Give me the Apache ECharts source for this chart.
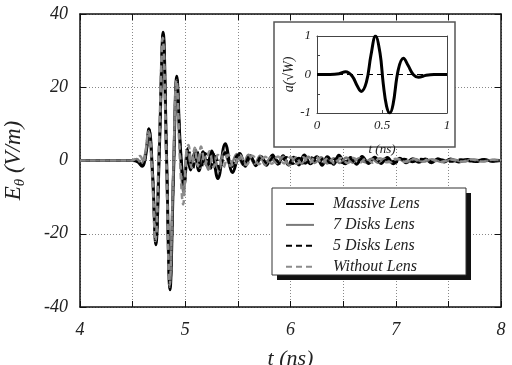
<!DOCTYPE html>
<html>
<head>
<meta charset="utf-8">
<script src="https://cdn.jsdelivr.net/npm/echarts@6/dist/echarts.min.js"></script>
<style>
  html, body { margin: 0; padding: 0; background: #fff; }
  #chart { width: 512px; height: 365px; }
</style>
</head>
<body>
<div id="chart"></div>
<script>
// [t (ns), E (V/m)]
const massiveLens = [
  [4.00, 0], [4.50, 0], [4.55, -0.4], [4.59, -1.6], [4.625, 1.5], [4.655, 8.7], [4.69, -4], [4.72, -23],
  [4.755, 4], [4.79, 35], [4.823, 0], [4.855, -35.3], [4.888, -4], [4.92, 23], [4.955, 3], [4.99, -5.5],
  [5.02, 1.8], [5.05, -2.6], [5.09, 2.2], [5.13, -2.8], [5.17, 2.4], [5.21, -1.6], [5.25, 2.6], [5.31, -4.9],
  [5.38, 4.6], [5.45, -3.3], [5.52, 1.9], [5.57, -1.6], [5.62, 1.3], [5.67, -1.4], [5.72, 1.1], [5.77, -1.3],
  [5.83, 1.5], [5.88, -1.0], [5.93, 1.3], [5.98, -1.2], [6.03, 0.9], [6.08, -1.2], [6.13, 1.5], [6.19, -0.9],
  [6.25, 1.0], [6.30, -1.3], [6.35, 1.0], [6.41, -1.0], [6.46, 1.4], [6.52, -0.9], [6.57, 0.8], [6.63, -1.0],
  [6.68, 1.1], [6.74, -0.8], [6.80, 0.9], [6.86, -0.8], [6.92, 0.8], [6.98, -0.9], [7.04, 0.6], [7.10, -0.6],
  [7.16, 0.5], [7.22, -0.5], [7.28, 0.4], [7.34, -0.6], [7.40, 0.5], [7.46, -0.4], [7.52, 0.4], [7.60, -0.4],
  [7.68, 0.3], [7.76, -0.3], [7.84, 0.3], [7.92, -0.2], [8.00, 0]
];
const disks7Lens = [
  [4.00, 0], [4.49, 0], [4.54, 0.4], [4.58, -0.8], [4.62, 2], [4.652, 8.2], [4.688, -4], [4.718, -22],
  [4.753, 4], [4.788, 34], [4.821, 0], [4.853, -34.5], [4.886, -4], [4.918, 22], [4.95, 2], [4.985, -9],
  [5.02, 3.2], [5.06, -1.5], [5.10, 3.0], [5.14, -2.0], [5.18, 1.5], [5.22, -2.5], [5.27, 1.5], [5.32, -2.8],
  [5.37, 2.5], [5.43, -1.5], [5.49, 1.8], [5.55, -1.2], [5.60, 1.6], [5.66, -0.9], [5.71, 1.3], [5.76, -1.2],
  [5.81, 0.8], [5.87, -0.7], [5.93, 1.0], [5.99, -1.3], [6.05, 0.8], [6.11, -0.9], [6.17, 1.0], [6.23, -0.7],
  [6.29, 0.9], [6.35, -0.8], [6.41, 0.6], [6.47, -0.7], [6.53, 0.8], [6.59, -0.6], [6.65, 0.6], [6.71, -0.5],
  [6.77, 0.5], [6.83, -0.6], [6.89, 0.5], [6.95, -0.5], [7.02, 0.4], [7.10, -0.4], [7.18, 0.4], [7.26, -0.3],
  [7.34, 0.3], [7.44, -0.4], [7.54, 0.3], [7.64, -0.3], [7.74, 0.3], [7.84, -0.2], [7.94, 0.2], [8.00, 0]
];
const disks5Lens = [
  [4.00, 0], [4.50, 0], [4.55, -0.3], [4.59, -1.4], [4.625, 1.5], [4.655, 8.5], [4.69, -4], [4.72, -22.5],
  [4.755, 4], [4.79, 34.5], [4.823, 0], [4.855, -34.8], [4.888, -4], [4.92, 22.5], [4.955, 3], [4.99, -7],
  [5.03, 3.5], [5.07, -2.5], [5.11, 2.8], [5.15, -2.2], [5.19, 2.0], [5.24, -2.2], [5.28, 2.2], [5.33, -2.5],
  [5.38, 2.2], [5.44, -1.8], [5.50, 1.5], [5.56, -1.3], [5.61, 1.2], [5.67, -1.0], [5.72, 1.0], [5.78, -0.9],
  [5.84, 1.0], [5.90, -0.8], [5.96, 0.9], [6.02, -0.9], [6.08, 0.7], [6.14, -0.8], [6.20, 0.8], [6.26, -0.7],
  [6.32, 0.7], [6.38, -0.7], [6.44, 0.6], [6.50, -0.7], [6.56, 0.6], [6.62, -0.6], [6.68, 0.5], [6.74, -0.5],
  [6.80, 0.5], [6.86, -0.5], [6.93, 0.4], [7.00, -0.5], [7.08, 0.4], [7.16, -0.4], [7.24, 0.4], [7.32, -0.3],
  [7.42, 0.3], [7.52, -0.3], [7.62, 0.3], [7.72, -0.2], [7.82, 0.2], [7.92, -0.2], [8.00, 0]
];
const withoutLens = [
  [4.00, 0], [4.49, 0], [4.53, 0.5], [4.57, 1.2], [4.60, -0.5], [4.65, 8.0], [4.685, -4], [4.716, -22],
  [4.75, 4], [4.786, 33.5], [4.82, 0], [4.852, -34], [4.885, -4], [4.917, 22], [4.95, 0], [4.98, -12],
  [5.01, 2], [5.03, 4.2], [5.06, -2.0], [5.09, 3.5], [5.12, -1.5], [5.15, 3.8], [5.19, -1.0], [5.23, 2.5],
  [5.27, -1.8], [5.31, 1.5], [5.36, -2.0], [5.41, 1.6], [5.46, -1.6], [5.52, 1.4], [5.58, -1.2], [5.64, 1.3],
  [5.70, -1.0], [5.76, 1.0], [5.82, -0.9], [5.88, 1.1], [5.94, -0.8], [6.00, 0.9], [6.06, -0.9], [6.12, 0.9],
  [6.18, -0.7], [6.24, 1.1], [6.30, -0.8], [6.36, 0.8], [6.42, -0.8], [6.48, 0.7], [6.54, -0.7], [6.60, 0.7],
  [6.66, -0.6], [6.72, 0.6], [6.78, -0.6], [6.85, 0.6], [6.92, -0.5], [7.00, 0.5], [7.08, -0.4], [7.16, 0.5],
  [7.24, -0.4], [7.32, 0.4], [7.42, -0.4], [7.52, 0.3], [7.62, -0.3], [7.72, 0.3], [7.82, -0.3], [7.92, 0.2],
  [8.00, 0]
];
// inset: excitation pulse a(sqrt W) vs t (ns)
const insetPulse = [
  [0, 0], [0.10, 0], [0.17, 0.02], [0.22, 0.07], [0.27, -0.04], [0.31, -0.3], [0.34, -0.44], [0.38, -0.2],
  [0.415, 0.5], [0.45, 1.0], [0.485, 0.55], [0.51, -0.25], [0.535, -0.82], [0.56, -1.0], [0.585, -0.78],
  [0.625, 0.12], [0.665, 0.42], [0.70, 0.24], [0.74, 0.0], [0.78, -0.07], [0.84, -0.02], [0.90, 0], [1, 0]
];
const insetTicks = ['0', '0.5', '1'];
const seriesNames = ['Massive Lens', '7 Disks Lens', '5 Disks Lens', 'Without Lens'];

const serif = 'Liberation Serif';
const chart = echarts.init(document.getElementById('chart'));

const frameAxis = (extra) => Object.assign({
  axisLine: { show: true, onZero: false, lineStyle: { color: '#111', width: 1.5 } },
  axisTick: { show: true, inside: true, length: 6, lineStyle: { color: '#111' } },
  axisLabel: { show: false },
  splitLine: { show: false }
}, extra);

const labelStyle = { fontFamily: serif, fontStyle: 'italic', fontSize: 18, color: '#222' };
const insetLabel = { fontFamily: serif, fontStyle: 'italic', fontSize: 13, color: '#222' };
const insetLine = { show: true, onZero: false, lineStyle: { color: '#444', width: 1 } };

chart.setOption({
  animation: false,
  backgroundColor: '#fff',
  grid: [
    { left: 80, right: 11, top: 14, bottom: 58, outerBoundsMode: 'none' },
    { left: 317, top: 36, width: 130, height: 77, outerBoundsMode: 'none' }
  ],
  xAxis: [
    frameAxis({
      type: 'value', min: 4, max: 8, interval: 0.5, gridIndex: 0,
      axisLabel: {
        show: true, margin: 14, ...labelStyle,
        formatter: v => (Number.isInteger(v) ? String(v) : '')
      },
      splitLine: { show: true, lineStyle: { color: '#888', type: [1, 2], width: 1 } },
      name: 't (ns)', nameLocation: 'middle', nameGap: 41,
      nameTextStyle: { fontFamily: serif, fontStyle: 'italic', fontSize: 22, color: '#222' }
    }),
    frameAxis({ type: 'value', min: 4, max: 8, interval: 0.5, gridIndex: 0, position: 'top' }),
    frameAxis({
      type: 'value', min: 0, max: 1, interval: 0.5, gridIndex: 1, z: 10,
      axisLine: insetLine,
      axisTick: { show: true, inside: true, length: 3, lineStyle: { color: '#444' } },
      axisLabel: {
        show: true, margin: 6, ...insetLabel, hideOverlap: false,
        showMinLabel: true, showMaxLabel: true,
        formatter: v => insetTicks[Math.round(v * 2)]
      },
      name: 't (ns)', nameLocation: 'middle', nameGap: 30, nameMoveOverlap: false,
      nameTextStyle: insetLabel
    }),
    frameAxis({
      type: 'value', min: 0, max: 1, interval: 0.5, gridIndex: 1, position: 'top', z: 10,
      axisLine: insetLine, axisTick: { show: false }
    })
  ],
  yAxis: [
    frameAxis({
      type: 'value', min: -40, max: 40, interval: 20, gridIndex: 0,
      axisLabel: { show: true, margin: 12, ...labelStyle },
      splitLine: { show: true, lineStyle: { color: '#888', type: [1, 2], width: 1 } },
      name: '{e|E}{s|θ}{e| (V/m)}', nameLocation: 'middle', nameGap: 52, nameRotate: 90,
      nameTextStyle: {
        rich: {
          e: { fontFamily: serif, fontStyle: 'italic', fontSize: 23, color: '#222', lineHeight: 28 },
          s: { fontFamily: serif, fontStyle: 'italic', fontSize: 15, color: '#222', lineHeight: 15, verticalAlign: 'bottom' }
        }
      }
    }),
    frameAxis({ type: 'value', min: -40, max: 40, interval: 20, gridIndex: 0, position: 'right' }),
    frameAxis({
      type: 'value', min: -1, max: 1, interval: 0.5, gridIndex: 1, z: 10,
      axisLine: insetLine,
      axisTick: { show: true, inside: true, length: 3, lineStyle: { color: '#444' } },
      axisLabel: { show: true, margin: 6, ...insetLabel, formatter: v => (Number.isInteger(v) ? String(v) : '') },
      name: 'a(√W)', nameLocation: 'middle', nameGap: 18, nameRotate: 90,
      nameTextStyle: { fontFamily: serif, fontStyle: 'italic', fontSize: 14, color: '#222' }
    }),
    frameAxis({
      type: 'value', min: -1, max: 1, gridIndex: 1, position: 'right', z: 10,
      axisLine: insetLine, axisTick: { show: false }
    })
  ],
  legend: {
    orient: 'vertical', left: 272, top: 190,
    data: seriesNames,
    itemWidth: 28, itemHeight: 14, itemGap: 4.9,
    padding: [6, 40, 4, 13],
    itemStyle: { opacity: 0 },
    textStyle: { fontFamily: serif, fontStyle: 'italic', fontSize: 16, color: '#222', padding: [0, 0, 0, 14] }
  },
  graphic: [
    {
      type: 'rect', z: 5,
      shape: { x: 274, y: 22, width: 181, height: 125 },
      style: { fill: '#fff', stroke: '#555', lineWidth: 1.5 }
    },
    {
      type: 'rect', z: 3,
      shape: { x: 277, y: 193, width: 194, height: 87 },
      style: { fill: '#111' }
    },
    {
      type: 'rect', z: 3,
      shape: { x: 272, y: 188, width: 194, height: 87 },
      style: { fill: '#fff', stroke: '#333', lineWidth: 1 }
    }
  ],
  series: [
    {
      name: seriesNames[0], type: 'line', data: massiveLens, xAxisIndex: 0, yAxisIndex: 0,
      symbol: 'none', smooth: 0.4, z: 2,
      lineStyle: { color: '#000', width: 3 }, itemStyle: { color: '#000' }
    },
    {
      name: seriesNames[1], type: 'line', data: disks7Lens, xAxisIndex: 0, yAxisIndex: 0,
      symbol: 'none', smooth: 0.4, z: 2,
      lineStyle: { color: '#7a7a7a', width: 2.5 }, itemStyle: { color: '#7a7a7a' }
    },
    {
      name: seriesNames[2], type: 'line', data: disks5Lens, xAxisIndex: 0, yAxisIndex: 0,
      symbol: 'none', smooth: 0.4, z: 2,
      lineStyle: { color: '#000', width: 2.5, type: [6, 4] }, itemStyle: { color: '#000' }
    },
    {
      name: seriesNames[3], type: 'line', data: withoutLens, xAxisIndex: 0, yAxisIndex: 0,
      symbol: 'none', smooth: 0.4, z: 2,
      lineStyle: { color: '#8c8c8c', width: 2.5, type: [6, 4] }, itemStyle: { color: '#8c8c8c' }
    },
    {
      name: 'pulse', type: 'line', data: insetPulse, xAxisIndex: 2, yAxisIndex: 2,
      symbol: 'none', smooth: 0.4, z: 10,
      lineStyle: { color: '#000', width: 3 },
      markLine: {
        silent: true, symbol: 'none', label: { show: false },
        lineStyle: { color: '#000', width: 1, type: [6, 4] },
        data: [{ yAxis: 0 }]
      }
    }
  ]
});
</script>
</body>
</html>
